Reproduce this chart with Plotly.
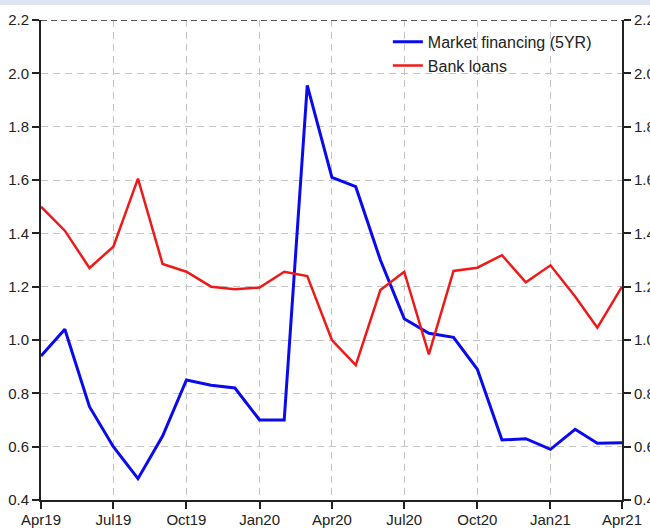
import plotly.graph_objects as go

months = ["2019-04-01", "2019-05-01", "2019-06-01", "2019-07-01", "2019-08-01",
          "2019-09-01", "2019-10-01", "2019-11-01", "2019-12-01", "2020-01-01",
          "2020-02-01", "2020-03-01", "2020-04-01", "2020-05-01", "2020-06-01",
          "2020-07-01", "2020-08-01", "2020-09-01", "2020-10-01", "2020-11-01",
          "2020-12-01", "2021-01-01", "2021-02-01", "2021-03-01", "2021-04-01"]

market_financing = [0.94, 1.04, 0.75, 0.60, 0.48, 0.64, 0.85, 0.83, 0.82, 0.70,
                    0.70, 1.955, 1.61, 1.575, 1.30, 1.08, 1.025, 1.01, 0.89, 0.625,
                    0.63, 0.59, 0.665, 0.613, 0.615]

bank_loans = [1.50, 1.41, 1.27, 1.35, 1.605, 1.285, 1.256, 1.20, 1.19, 1.197,
              1.256, 1.24, 1.00, 0.906, 1.187, 1.256, 0.946, 1.259, 1.271, 1.318,
              1.216, 1.28, 1.163, 1.046, 1.20]

y_ticks = [0.4, 0.6, 0.8, 1.0, 1.2, 1.4, 1.6, 1.8, 2.0, 2.2]
y_tick_text = ["0.4", "0.6", "0.8", "1.0", "1.2", "1.4", "1.6", "1.8", "2.0", "2.2"]

FONT = "Liberation Sans, Arial, sans-serif"
GRID_DASH = "7px,5px"

fig = go.Figure()
fig.add_trace(go.Scatter(x=months, y=market_financing, mode="lines",
                         name="Market financing (5YR)", yaxis="y",
                         line=dict(color="#0a0aee", width=3)))
fig.add_trace(go.Scatter(x=months, y=bank_loans, mode="lines",
                         name="Bank loans", yaxis="y2",
                         line=dict(color="#ee1a1a", width=2.5)))

axis_common = dict(showline=True, linecolor="#222222", linewidth=2,
                   ticks="outside", ticklen=7, tickwidth=1.5, tickcolor="#222222",
                   automargin=False,
                   tickfont=dict(family=FONT, size=15, color="#222222"))

fig.update_layout(
    width=650, height=528,
    margin=dict(l=41, r=28, t=20, b=28, autoexpand=False),
    paper_bgcolor="rgba(0,0,0,0)", plot_bgcolor="white",
    font=dict(family=FONT, size=15, color="#222222"),
    showlegend=True,
    legend=dict(x=0.597, y=0.99, xanchor="left", yanchor="top",
                bgcolor="rgba(0,0,0,0)", borderwidth=0,
                font=dict(family=FONT, size=16, color="#222222"),
                tracegroupgap=0, itemwidth=30),
    xaxis=dict(type="date", range=["2019-04-01", "2021-04-01"],
               tick0="2019-04-01", dtick="M3", tickformat="%b%y",
               showgrid=True, gridcolor="#c4c4c4", griddash=GRID_DASH, gridwidth=1.2,
               zeroline=False, mirror=False, ticklabelstandoff=-2, **axis_common),
    yaxis=dict(range=[0.4, 2.2], tickvals=y_ticks, ticktext=y_tick_text,
               showgrid=True, gridcolor="#c4c4c4", griddash=GRID_DASH, gridwidth=1.2,
               zeroline=False, ticklabelstandoff=0, **axis_common),
    yaxis2=dict(range=[0.4, 2.2], tickvals=y_ticks, ticktext=y_tick_text,
                overlaying="y", side="right", showgrid=False, zeroline=False,
                ticklabelstandoff=0, **axis_common),
)

# top dashed border at 2.2
fig.add_shape(type="line", xref="paper", yref="y", x0=0, x1=1, y0=2.2, y1=2.2,
              line=dict(color="#555555", width=2, dash="6px,4px"))

# page: no margin, white background with a thin light-blue strip at the very top
page_css = ("document.body.style.margin='0';"
            "document.body.style.overflow='hidden';"
            "document.body.style.background="
            "'linear-gradient(to bottom, #dce5f1 0px, #dce5f1 5px, #ffffff 5px, #ffffff 100%)';")

fig.write_html("out.html", config={"displayModeBar": False}, post_script=page_css)
